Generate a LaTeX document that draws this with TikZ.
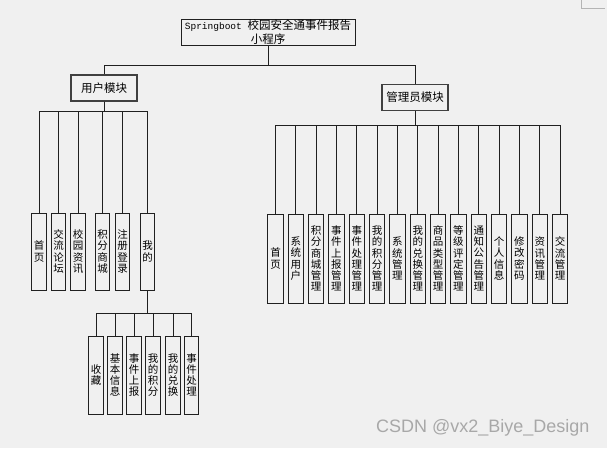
\documentclass[tikz,border=0pt]{standalone}
\usepackage{fontspec}
\newfontfamily\cjk{Noto Sans CJK SC}
\newfontfamily\monof{Liberation Mono}
\newfontfamily\wmf{Liberation Sans}
\definecolor{bg}{HTML}{F0F0F0}
\definecolor{boxline}{HTML}{202020}
\definecolor{wm}{HTML}{A8A8A8}
\definecolor{corner}{HTML}{B4B4B4}
\tikzset{
  conn/.style={draw=boxline, line width=0.9pt},
  titlebox/.style={draw=boxline, line width=1pt, inner sep=0pt, minimum width=174pt, minimum height=26pt, align=center, font=\cjk\fontsize{11.5}{13.5}\selectfont},
  modbox/.style={draw=black!75, line width=1.3pt, inner sep=0pt, minimum width=66pt, minimum height=26pt, font=\cjk\fontsize{11.5}{12}\selectfont},
  vbox/.style={draw=boxline, line width=1pt, inner sep=0pt, minimum width=14.5pt, minimum height=77pt, align=center, font=\cjk\fontsize{10.5}{11.2}\selectfont},
  abox/.style={vbox, minimum width=15.5pt, minimum height=89pt},
}
\begin{document}
\begin{tikzpicture}[x=1pt,y=-1pt]
\fill[bg] (0,0) rectangle (607,448);
\useasboundingbox (0,0) rectangle (607,448);
% page corner mark
\draw[corner, line width=0.8pt] (581,0) -- (581,8) -- (605,8);

% root
\node[titlebox] (root) at (268,32) {{\monof\fontsize{9.5}{13.5}\selectfont Springboot\ }校园安全通事件报告\\小程序};
\node[modbox] (um) at (104,88) {用户模块};
\node[modbox] (am) at (415,97.5) {管理员模块};

\coordinate (rbus) at (0,65);
\draw[conn] (root.south) -- (root.south|-rbus) -| (um.north);
\draw[conn] (root.south|-rbus) -| (am.north);

% user module children
\coordinate (ubus) at (0,111);
\foreach \n/\x/\t in {u1/39/首\\页, u2/58.5/交\\流\\论\\坛, u3/78/校\\园\\资\\讯, u4/102.5/积\\分\\商\\城, u5/122.5/注\\册\\登\\录, u6/147.5/我\\的}{
  \node[vbox] (\n) at (\x,251.5) {\t};
  \draw[conn] (um.south) -- (um.south|-ubus) -| (\n.north);
}

% my children
\coordinate (mbus) at (0,313);
\foreach \n/\x/\t in {m1/96/收\\藏, m2/115/基\\本\\信\\息, m3/134/事\\件\\上\\报, m4/153/我\\的\\积\\分, m5/173/我\\的\\兑\\换, m6/191.5/事\\件\\处\\理}{
  \node[vbox, minimum height=78pt] (\n) at (\x,375) {\t};
  \draw[conn] (u6.south) -- (u6.south|-mbus) -| (\n.north);
}

% admin children
\coordinate (abus) at (0,125);
\foreach \i/\t in {0/首\\页, 1/系\\统\\用\\户, 2/积\\分\\商\\城\\管\\理, 3/事\\件\\上\\报\\管\\理, 4/事\\件\\处\\理\\管\\理, 5/我\\的\\积\\分\\管\\理, 6/系\\统\\管\\理, 7/我\\的\\兑\\换\\管\\理, 8/商\\品\\类\\型\\管\\理, 9/等\\级\\评\\定\\管\\理, 10/通\\知\\公\\告\\管\\理, 11/个\\人\\信\\息, 12/修\\改\\密\\码, 13/资\\讯\\管\\理, 14/交\\流\\管\\理}{
  \node[abox] (a\i) at ({275.5+20.33*\i},258.5) {\t};
  \draw[conn] (am.south) -- (am.south|-abus) -| (a\i.north);
}

% watermark
\node[anchor=west, text=wm, font=\wmf\fontsize{18}{20}\selectfont, inner sep=0pt] (wmk) at (376,428) {CSDN @vx2\_Biye\_Design};
\end{tikzpicture}
\end{document}
